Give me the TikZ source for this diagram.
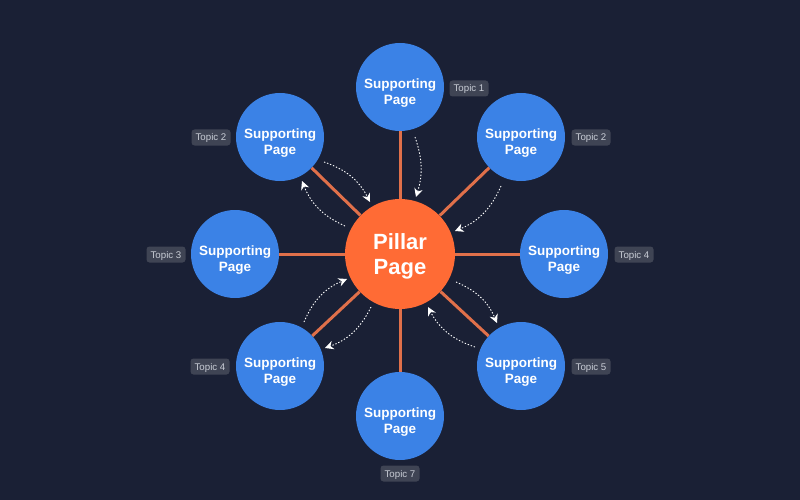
\documentclass[tikz,border=0pt]{standalone}
\usepackage{fontspec}
\setmainfont{Liberation Sans}
\usetikzlibrary{arrows.meta}
\definecolor{bgc}{HTML}{1A2035}
\definecolor{bluec}{HTML}{3B82E6}
\definecolor{orangec}{HTML}{FF6B35}
\definecolor{spokec}{HTML}{E0704A}
\definecolor{tagc}{HTML}{3F4454}
\definecolor{tagt}{HTML}{C9CDD6}
\newcommand{\sptext}{\rule{0pt}{22pt}Supporting\\Page}
\tikzset{
  x=1pt,y=-1pt,
  support/.style={circle,fill=bluec,minimum size=88pt,inner sep=0pt,align=center,text=white,font=\fontsize{13.5}{15.5}\selectfont\bfseries},
  pillar/.style={circle,fill=orangec,minimum size=110pt,inner sep=0pt,align=center,text=white,font=\fontsize{22}{24.5}\selectfont\bfseries},
  spoke/.style={draw=spokec,line width=3pt},
  flow/.style={draw=white,line width=0.9pt,dash pattern=on 1.4pt off 1.8pt,-{Stealth[length=8.5pt,width=8.5pt,fill=white]}},
  tag/.style={fill=tagc,rounded corners=3pt,text=tagt,minimum width=39pt,minimum height=16pt,inner sep=0pt,text height=9pt,text depth=2pt,font=\fontsize{9.7}{11}\selectfont}
}
\begin{document}
\begin{tikzpicture}
\fill[bgc] (0,0) rectangle (800,500);
\useasboundingbox (0,0) rectangle (800,500);
\node[pillar] (p) at (400,254) {\rule{0pt}{21pt}Pillar\\Page};
\node[support] (s1) at (400,87) {\sptext};
\node[support] (s2) at (521,137) {\sptext};
\node[support] (s3) at (564,254) {\sptext};
\node[support] (s4) at (521,366) {\sptext};
\node[support] (s5) at (400,416) {\sptext};
\node[support] (s6) at (280,366) {\sptext};
\node[support] (s7) at (235,254) {\sptext};
\node[support] (s8) at (280,137) {\sptext};
\foreach \n in {s1,s2,s3,s4,s5,s6,s7,s8}{\draw[spoke] (p) -- (\n);}
\node[tag] (t1) at (469,88.5) {Topic 1};
\node[tag] (t2) at (591,137.5) {Topic 2};
\node[tag] (t3) at (634,254.5) {Topic 4};
\node[tag] (t4) at (591,366.5) {Topic 5};
\node[tag] (t5) at (400,473.5) {Topic 7};
\node[tag] (t6) at (210,366.5) {Topic 4};
\node[tag] (t7) at (166,254.5) {Topic 3};
\node[tag] (t8) at (211,137.5) {Topic 2};
\coordinate (a1) at (324,162); \coordinate (a2) at (370,202);
\coordinate (b1) at (345,226); \coordinate (b2) at (302,181);
\coordinate (c1) at (415,137); \coordinate (c2) at (416,197);
\coordinate (d1) at (501,186); \coordinate (d2) at (455,231);
\coordinate (e1) at (304,322); \coordinate (e2) at (347,279);
\coordinate (f1) at (371,307); \coordinate (f2) at (325,348);
\coordinate (g1) at (456,282); \coordinate (g2) at (497,323);
\coordinate (h1) at (475,347); \coordinate (h2) at (428,307);
\draw[flow] (a1) to[bend left=22] (a2);
\draw[flow] (b1) to[bend left=22] (b2);
\draw[flow] (c1) to[bend left=18] (c2);
\draw[flow] (d1) to[bend left=22] (d2);
\draw[flow] (e1) to[bend left=22] (e2);
\draw[flow] (f1) to[bend left=22] (f2);
\draw[flow] (g1) to[bend left=22] (g2);
\draw[flow] (h1) to[bend left=22] (h2);
\end{tikzpicture}
\end{document}
